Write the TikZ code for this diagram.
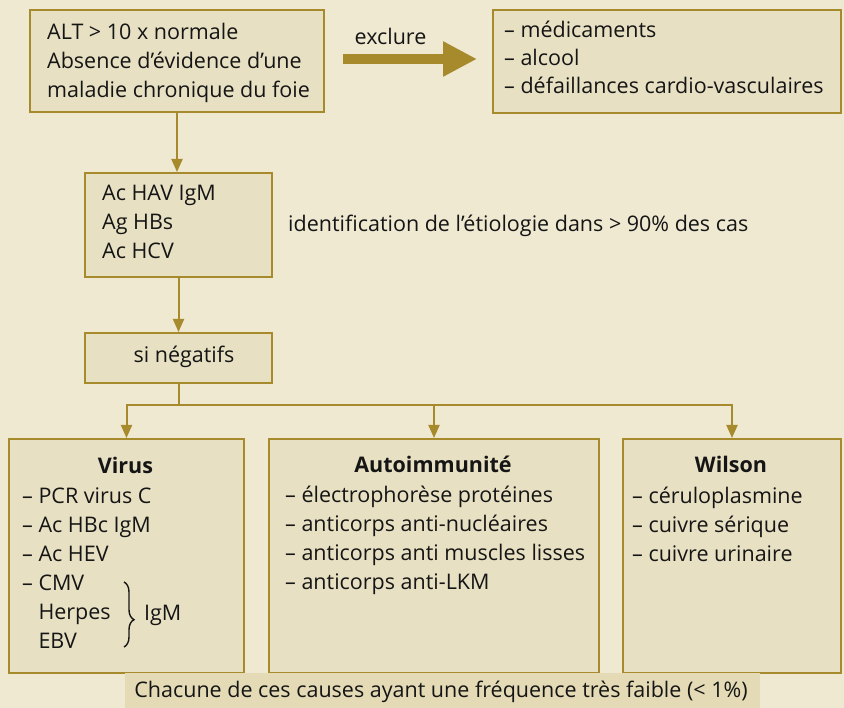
\documentclass[tikz,border=0pt]{standalone}
\usepackage{fontspec}
\setmainfont{Open Sans}
\usetikzlibrary{arrows.meta,decorations.pathreplacing}
\definecolor{bg}{HTML}{EFE9D2}
\definecolor{boxfill}{HTML}{E7E0C3}
\definecolor{gold}{HTML}{A68A2C}
\definecolor{bandfill}{HTML}{E4DBB6}
\definecolor{ink}{HTML}{151515}
\begin{document}
\begin{tikzpicture}[x=1pt,y=-1pt,
  boxnode/.style={draw=gold, line width=2pt, fill=boxfill, inner sep=0pt, anchor=north west},
  txt/.style={inner sep=0pt, text=ink, align=left, anchor=north west, font=\fontsize{21.5}{29}\selectfont},
  lbl/.style={inner sep=0pt, text=ink, font=\fontsize{21.5}{29}\selectfont},
  hdr/.style={inner sep=0pt, text=ink, anchor=base, font=\fontsize{21.5}{29}\selectfont\bfseries},
  conn/.style={draw=gold, line width=2pt, -{Triangle[length=13pt,width=11pt]}},
  plainconn/.style={draw=gold, line width=2pt},
  fatarrow/.style={draw=gold, line width=10pt, -{Triangle[length=34pt,width=33pt]}}]
\fill[bg] (0,0) rectangle (844,708);
\useasboundingbox (0,0) rectangle (844,708);

% boxes
\node[boxnode, minimum width=294pt, minimum height=102pt] (b1) at (29,9) {};
\node[boxnode, minimum width=348pt, minimum height=103pt] (b2) at (492,9) {};
\node[boxnode, minimum width=187pt, minimum height=104pt] (b3) at (84,172) {};
\node[boxnode, minimum width=187pt, minimum height=50pt] (b4) at (84,332) {};
\node[boxnode, minimum width=235pt, minimum height=234pt] (b5) at (8,438) {};
\node[boxnode, minimum width=330pt, minimum height=234pt] (b6) at (268,438) {};
\node[boxnode, minimum width=218pt, minimum height=234pt] (b7) at (622,438) {};
\node[fill=bandfill, inner sep=0pt, anchor=north west, minimum width=635pt, minimum height=35pt] (band) at (125,673) {};

% texts
\node[txt] (t1) at (47,18.7) {\strut ALT > 10 x normale\\Absence d’évidence d’une\\maladie chronique du foie};
\node[txt, font=\fontsize{21.5}{28}\selectfont] (t2) at (504,17.4) {\strut – médicaments\\– alcool\\– défaillances cardio-vasculaires};
\node[txt] (t3) at (102,179.7) {\strut Ac HAV IgM\\Ag HBs\\Ac HCV};
\node[lbl, anchor=base] (t4) at (184,363) {si négatifs};
\node[lbl, anchor=base west] (ident) at (288,232) {identification de l’étiologie dans > 90\% des cas};
\node[lbl, anchor=base] (excl) at (390.5,45) {exclure};

\node[hdr] (h5) at (125.5,474) {Virus};
\node[txt] (t5) at (22,482.7) {\strut – PCR virus C\\– Ac HBc IgM\\– Ac HEV\\– CMV\\\phantom{– }Herpes\\\phantom{– }EBV};
\node[lbl, anchor=base west] (igm) at (144,620) {IgM};
\draw[ink, line width=1.4pt, decorate, decoration={brace, amplitude=10pt, aspect=0.58}] (124,582) -- (124,647);

\node[hdr] (h6) at (433,473) {Autoimmunité};
\node[txt] (t6) at (285,481.7) {\strut – électrophorèse protéines\\– anticorps anti-nucléaires\\– anticorps anti muscles lisses\\– anticorps anti-LKM};

\node[hdr] (h7) at (731,473) {Wilson};
\node[txt] (t7) at (632,482.7) {\strut – céruloplasmine\\– cuivre sérique\\– cuivre urinaire};

\node[lbl, anchor=base] (foot) at (441,697) {Chacune de ces causes ayant une fréquence très faible (< 1\%)};

% connectors
\draw[fatarrow, shorten <=18pt, shorten >=15pt] ([yshift=2pt]b1.east) -- ([yshift=2pt]b1.east -| b2.west);
\draw[conn] (b1.south) -- (b1.south |- b3.north);
\draw[conn] (b3.south) -- (b3.north |- b4.north);
\coordinate (split) at (177.5,405);
\draw[plainconn] (b4.south) -- (b4.south |- split);
\draw[conn] (split) -| (b5.north);
\draw[conn] (split) -| (b6.north);
\draw[conn] (split) -| (b7.north);
\end{tikzpicture}
\end{document}
